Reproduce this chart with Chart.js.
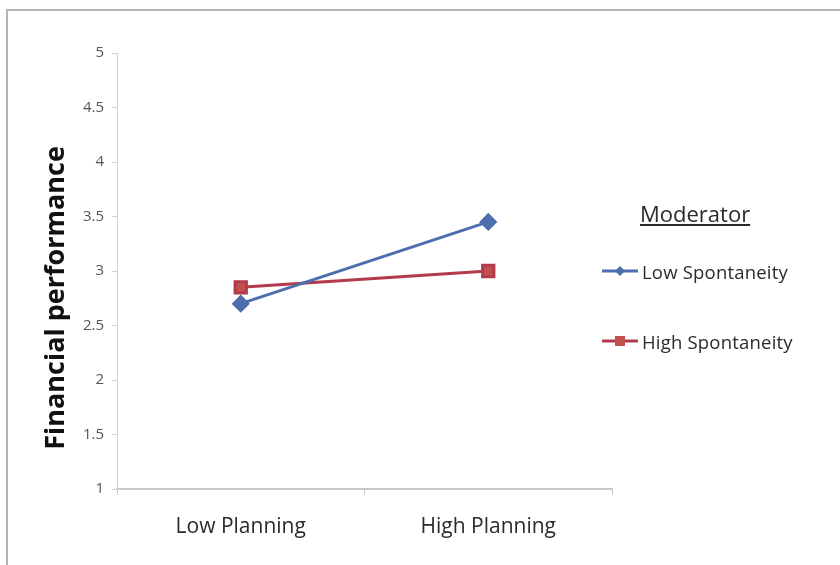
<!DOCTYPE html>
<html>
<head>
<meta charset="utf-8">
<script src="https://cdn.jsdelivr.net/npm/chart.js@4.4.1/dist/chart.umd.min.js"></script>
<style>
  html, body { margin: 0; padding: 0; background: #fff; }
  #wrap { position: relative; width: 840px; height: 565px; }
  #frame { position: absolute; left: 6px; top: 9px; right: 0; bottom: 0;
           border-left: 2px solid #b4b4b4; border-top: 2px solid #b4b4b4; }
  #chart { position: absolute; left: 0; top: 0; }
  #legend { position: absolute; left: 600px; top: 196px; font-family: "Open Sans", sans-serif; color: #2b2b2b; }
  #legend .title { font-size: 22px; text-decoration: underline; margin-left: 40px; line-height: 34px; }
  #legend .item { display: flex; align-items: center; height: 30px; margin-top: 40px; font-size: 18.5px; letter-spacing: 0.2px; }
  #legend .title + .item { margin-top: 26px; }
  #legend canvas { margin-right: 2px; }
</style>
</head>
<body>
<div id="wrap">
  <div id="frame"></div>
  <canvas id="chart" width="840" height="565"></canvas>
  <div id="legend"><div class="title">Moderator</div></div>
</div>
<script>
const categories = ['Low Planning', 'High Planning']
const lowSpontaneity = [2.7, 3.45]
const highSpontaneity = [2.85, 3.0]
const yTicks = [1, 1.5, 2, 2.5, 3, 3.5, 4, 4.5, 5]
const seriesNames = ['Low Spontaneity', 'High Spontaneity']

// y-axis title drawn off-centre like the original
const yTitle = {
  id: 'yTitle',
  afterDraw(chart) {
    const ctx = chart.ctx
    ctx.save()
    ctx.translate(56, 298)
    ctx.rotate(-Math.PI / 2)
    ctx.font = 'bold 27px "Open Sans", sans-serif'
    ctx.fillStyle = '#111'
    ctx.textAlign = 'center'
    ctx.textBaseline = 'middle'
    ctx.fillText('Financial performance', 0, 0)
    ctx.restore()
  }
}

const chart = new Chart(document.getElementById('chart'), {
  type: 'line',
  data: {
    labels: categories,
    datasets: [
      {
        label: seriesNames[0],
        data: lowSpontaneity,
        borderColor: '#4d6eae',
        backgroundColor: '#4d6eae',
        borderWidth: 3,
        pointStyle: 'rectRot',
        pointRadius: 7,
        pointHoverRadius: 7
      },
      {
        label: seriesNames[1],
        data: highSpontaneity,
        borderColor: '#b23a4c',
        backgroundColor: '#c0504d',
        borderWidth: 3,
        pointStyle: 'rect',
        pointRadius: 8,
        pointHoverRadius: 8
      }
    ]
  },
  options: {
    responsive: false,
    animation: false,
    layout: { padding: { left: 40, right: 228, top: 53, bottom: 0 } },
    plugins: {
      legend: { display: false },
      tooltip: { enabled: false }
    },
    scales: {
      x: {
        offset: true,
        grid: { offset: true, drawOnChartArea: false, color: '#c8c8c8', tickLength: 6 },
        border: { color: '#c8c8c8', width: 2 },
        ticks: { color: '#2b2b2b', font: { family: '"Open Sans", sans-serif', size: 21 }, padding: 19 },
        afterFit(scale) { scale.height = 565 - 489 }
      },
      y: {
        min: 1,
        max: 5,
        afterBuildTicks(scale) { scale.ticks = yTicks.map(v => ({ value: v })) },
        grid: { drawOnChartArea: false, color: '#d0d0d0', tickLength: 5 },
        border: { color: '#d0d0d0', width: 1 },
        ticks: {
          color: '#555',
          font: { family: '"Open Sans", sans-serif', size: 15 },
          padding: 8,
          callback: v => String(v)
        },
        afterFit(scale) { scale.width = 117 - 40 }
      }
    }
  },
  plugins: [yTitle]
})

// html legend built from the datasets
const legend = document.getElementById('legend')
chart.data.datasets.forEach(ds => {
  const item = document.createElement('div')
  item.className = 'item'
  const c = document.createElement('canvas')
  c.width = 40; c.height = 20
  const g = c.getContext('2d')
  g.strokeStyle = ds.borderColor
  g.lineWidth = 3
  g.beginPath(); g.moveTo(2, 10); g.lineTo(38, 10); g.stroke()
  g.fillStyle = ds.backgroundColor
  g.translate(20, 10)
  if (ds.pointStyle === 'rect') { g.fillRect(-5, -5, 10, 10) }
  else { g.rotate(Math.PI / 4); g.fillRect(-3.5, -3.5, 7, 7) }
  item.appendChild(c)
  const t = document.createElement('span')
  t.textContent = ds.label
  item.appendChild(t)
  legend.appendChild(item)
})
</script>
</body>
</html>
